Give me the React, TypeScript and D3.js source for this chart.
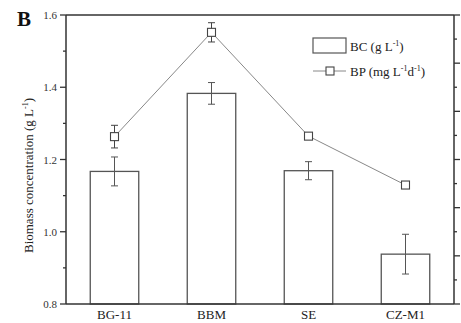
import React from "react";
import * as d3 from "d3";

const categories = ["BG-11", "BBM", "SE", "CZ-M1"];
const bcValues = [1.167, 1.383, 1.169, 0.938];
const bcErrors = [0.04, 0.03, 0.025, 0.055];
const bpValues = [69.5, 112.8, 69.7, 49.4];
const bpErrors = [4.7, 4.0, 1.2, 0.8];
const leftTicks = [0.8, 1.0, 1.2, 1.4, 1.6];
const leftMinor = [0.9, 1.1, 1.3, 1.5];
const rightMajor = [0, 20, 40, 60, 80, 100, 120];
const rightMinor = [10, 30, 50, 70, 90, 110];

const W = 461;
const H = 323;
const m = { left: 66, right: 454, top: 15, bottom: 304 };
const font = "'Liberation Serif', 'Times New Roman', serif";

export default function App() {
  const x = d3
    .scaleBand<string>()
    .domain(categories)
    .range([m.left, m.right])
    .paddingInner(0.5)
    .paddingOuter(0.25);
  const y = d3.scaleLinear().domain([0.8, 1.6]).range([m.bottom, m.top]);
  const yr = d3.scaleLinear().domain([0, 120]).range([m.bottom, m.top]);
  const cx = (c: string) => (x(c) as number) + x.bandwidth() / 2;

  const line = d3
    .line<number>()
    .x((_, i) => cx(categories[i]))
    .y((v) => yr(v));

  const axisColor = "#333";
  const barColor = "#555";
  const lineColor = "#888";
  const cap = 3.5;

  return (
    <svg
      width={W}
      height={H}
      style={{ position: "absolute", left: 0, top: 0, background: "#fff" }}
      fontFamily={font}
    >
      {/* bars */}
      {categories.map((c, i) => (
        <g key={c}>
          <rect
            x={x(c)}
            y={y(bcValues[i])}
            width={x.bandwidth()}
            height={m.bottom - y(bcValues[i])}
            fill="#fff"
            stroke={barColor}
            strokeWidth={1.3}
          />
          <line
            x1={cx(c)}
            x2={cx(c)}
            y1={y(bcValues[i] + bcErrors[i])}
            y2={y(bcValues[i] - bcErrors[i])}
            stroke={barColor}
            strokeWidth={1}
          />
          {[1, -1].map((s) => (
            <line
              key={s}
              x1={cx(c) - cap}
              x2={cx(c) + cap}
              y1={y(bcValues[i] + s * bcErrors[i])}
              y2={y(bcValues[i] + s * bcErrors[i])}
              stroke={barColor}
              strokeWidth={1}
            />
          ))}
        </g>
      ))}

      {/* BP line */}
      <path d={line(bpValues) as string} fill="none" stroke={lineColor} strokeWidth={1} />
      {categories.map((c, i) => (
        <g key={"bp" + c}>
          <line
            x1={cx(c)}
            x2={cx(c)}
            y1={yr(bpValues[i] + bpErrors[i])}
            y2={yr(bpValues[i] - bpErrors[i])}
            stroke="#444"
            strokeWidth={1}
          />
          {[1, -1].map((s) => (
            <line
              key={s}
              x1={cx(c) - cap}
              x2={cx(c) + cap}
              y1={yr(bpValues[i] + s * bpErrors[i])}
              y2={yr(bpValues[i] + s * bpErrors[i])}
              stroke="#444"
              strokeWidth={1}
            />
          ))}
          <rect
            x={cx(c) - 4}
            y={yr(bpValues[i]) - 4}
            width={8}
            height={8}
            fill="#fff"
            stroke="#444"
            strokeWidth={1.1}
          />
        </g>
      ))}

      {/* frame */}
      <line x1={m.left} x2={m.right} y1={m.top} y2={m.top} stroke={axisColor} strokeWidth={1.5} />
      <line x1={m.left} x2={m.right} y1={m.bottom} y2={m.bottom} stroke={axisColor} strokeWidth={1.5} />
      <line x1={m.left} x2={m.left} y1={m.top} y2={m.bottom} stroke={axisColor} strokeWidth={1.5} />
      <line x1={m.right} x2={m.right} y1={m.top} y2={m.bottom} stroke={axisColor} strokeWidth={1.5} />

      {/* left ticks */}
      {leftTicks.map((t) => (
        <g key={t}>
          <line x1={m.left - 6} x2={m.left} y1={y(t)} y2={y(t)} stroke={axisColor} strokeWidth={1.3} />
          <text x={m.left - 9} y={y(t) + 4} textAnchor="end" fontSize={11} fill="#333">
            {t.toFixed(1)}
          </text>
        </g>
      ))}
      {leftMinor.map((t) => (
        <line key={t} x1={m.left - 3} x2={m.left} y1={y(t)} y2={y(t)} stroke={axisColor} strokeWidth={1.3} />
      ))}
      {/* right ticks */}
      {rightMajor.map((t) => (
        <line key={t} x1={m.right} x2={m.right + 6} y1={yr(t)} y2={yr(t)} stroke={axisColor} strokeWidth={1.3} />
      ))}
      {rightMinor.map((t) => (
        <line key={t} x1={m.right} x2={m.right + 3} y1={yr(t)} y2={yr(t)} stroke={axisColor} strokeWidth={1.3} />
      ))}

      {/* x labels */}
      {categories.map((c) => (
        <text key={"l" + c} x={cx(c)} y={319} textAnchor="middle" fontSize={13} fill="#222">
          {c}
        </text>
      ))}

      {/* y title */}
      <text
        transform={`translate(33,${(m.top + m.bottom) / 2 + 16}) rotate(-90)`}
        textAnchor="middle"
        fontSize={13}
        fill="#222"
      >
        Biomass concentration (g L
        <tspan fontSize={8} dy={-5}>-1</tspan>
        <tspan dy={5}>)</tspan>
      </text>

      {/* panel letter */}
      <text x={17} y={26} fontSize={21} fontWeight="bold" fill="#111">
        B
      </text>

      {/* legend */}
      <rect x={313} y={38} width={33} height={15} fill="#fff" stroke={barColor} strokeWidth={1.2} />
      <text x={350} y={51} fontSize={13} fill="#222">
        BC (g L<tspan fontSize={8} dy={-5}>-1</tspan>
        <tspan dy={5}>)</tspan>
      </text>
      <line x1={313} x2={346} y1={71} y2={71} stroke={lineColor} strokeWidth={1} />
      <rect x={326} y={67} width={8} height={8} fill="#fff" stroke="#444" strokeWidth={1.1} />
      <text x={350} y={76} fontSize={13} fill="#222">
        BP (mg L<tspan fontSize={8} dy={-5}>-1</tspan>
        <tspan dy={5}>d</tspan>
        <tspan fontSize={8} dy={-5}>-1</tspan>
        <tspan dy={5}>)</tspan>
      </text>
    </svg>
  );
}
